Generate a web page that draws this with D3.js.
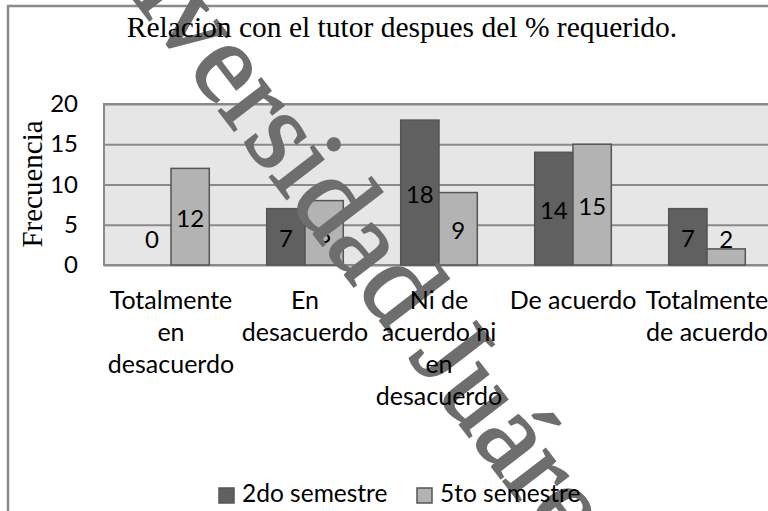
<!DOCTYPE html>
<html>
<head>
<meta charset="utf-8">
<script src="https://cdn.jsdelivr.net/npm/d3@7"></script>
<style>
  body { margin: 0; background: #fff; }
  svg { display: block; }
</style>
</head>
<body>
<svg id="chart"></svg>
<script>
const categories = ["Totalmente en desacuerdo", "En desacuerdo", "Ni de acuerdo ni en desacuerdo", "De acuerdo", "Totalmente de acuerdo"];
// how the category labels wrap under the axis
const categoryLines = [
    ["Totalmente", "en", "desacuerdo"],
    ["En", "desacuerdo"],
    ["Ni de", "acuerdo ni", "en", "desacuerdo"],
    ["De acuerdo"],
    ["Totalmente", "de acuerdo"]
];
const seriesNames = ["2do semestre", "5to semestre"];
const segundoSemestre = [0, 7, 18, 14, 7];
const quintoSemestre = [12, 8, 9, 15, 2];
const yTicks = [0, 5, 10, 15, 20];
const title = "Relacion con el tutor despues del % requerido.";
const yTitle = "Frecuencia";
const watermark = "Universidad Juárez";

const W = 768, H = 511;
const plot = { left: 104, right: 774, top: 104, bottom: 265 };
const colors = ["#606060", "#b3b3b3"];
const sans = "Lato, 'Open Sans', sans-serif";
const serif = "'Liberation Serif', 'Times New Roman', serif";

const svg = d3.select("#chart").attr("width", W).attr("height", H);

// outer chart frame (only left and top edges fall inside the picture)
svg.append("rect")
    .attr("x", 8).attr("y", 6)
    .attr("width", 900).attr("height", 700)
    .attr("fill", "#fff")
    .attr("stroke", "#8a8a8a")
    .attr("stroke-width", 2.5);

const data = categories.map((c, i) => ({
    cat: c,
    values: [segundoSemestre[i], quintoSemestre[i]]
}));

//scales
const x0 = d3.scaleBand()
    .domain(categories)
    .range([plot.left, plot.right])
    .paddingInner(1.5 / 3.5)
    .paddingOuter(0.75 / 3.5);

const x1 = d3.scaleBand()
    .domain(seriesNames)
    .range([0, x0.bandwidth()]);

const y = d3.scaleLinear()
    .domain([0, 20])
    .range([plot.bottom, plot.top]);

// plot background
svg.append("rect")
    .attr("x", plot.left).attr("y", plot.top)
    .attr("width", plot.right - plot.left)
    .attr("height", plot.bottom - plot.top)
    .attr("fill", "#e6e6e6")
    .attr("stroke", "#8a8a8a")
    .attr("stroke-width", 2);

// gridlines + tick labels
const yAxis = svg.append("g")
    .attr("transform", `translate(${plot.left},0)`)
    .call(d3.axisLeft(y).tickValues(yTicks).tickSize(0).tickPadding(26));
yAxis.select(".domain").remove();
yAxis.selectAll(".tick line").clone()
    .attr("x2", plot.right - plot.left)
    .attr("stroke", "#8a8a8a")
    .attr("stroke-width", 2);
yAxis.selectAll("text")
    .attr("font-family", sans)
    .attr("font-size", 24)
    .attr("fill", "#000");

// bars
const groups = svg.append("g")
    .selectAll("g")
    .data(data)
    .join("g")
    .attr("transform", d => `translate(${x0(d.cat)},0)`);

groups.selectAll("rect")
    .data(d => d.values.map((v, i) => ({ key: seriesNames[i], v, i })))
    .join("rect")
    .attr("x", d => x1(d.key))
    .attr("width", x1.bandwidth())
    .attr("y", d => y(d.v))
    .attr("height", d => y(0) - y(d.v))
    .attr("fill", d => colors[d.i])
    .attr("stroke", "#555")
    .attr("stroke-width", 1.5);

// watermark
svg.append("text")
    .attr("transform", "translate(45,-116) rotate(52.5)")
    .attr("font-family", serif)
    .attr("font-size", 116)
    .attr("fill", "#6e6e6e")
    .attr("stroke", "#6e6e6e")
    .attr("stroke-width", 2)
    .text(watermark);

// data labels, centred in the bar but kept clear of the axis
groups.selectAll("text")
    .data(d => d.values.map((v, i) => ({ key: seriesNames[i], v })))
    .join("text")
    .attr("x", d => x1(d.key) + x1.bandwidth() / 2)
    .attr("y", d => Math.min((y(d.v) + y(0)) / 2 + 2, y(3.1)))
    .attr("dy", "0.35em")
    .attr("text-anchor", "middle")
    .attr("font-family", sans)
    .attr("font-size", 24)
    .text(d => d.v);

// category labels
svg.append("g")
    .selectAll("text")
    .data(data)
    .join("text")
    .attr("x", d => x0(d.cat) + x0.bandwidth() / 2)
    .attr("y", 309)
    .attr("text-anchor", "middle")
    .attr("font-family", sans)
    .attr("font-size", 25)
    .each(function (d, i) {
        d3.select(this).selectAll("tspan")
            .data(categoryLines[i])
            .join("tspan")
            .attr("x", x0(d.cat) + x0.bandwidth() / 2)
            .attr("dy", (l, j) => j === 0 ? 0 : 32)
            .text(l => l);
    });

// titles
svg.append("text")
    .attr("x", 402).attr("y", 37)
    .attr("text-anchor", "middle")
    .attr("font-family", serif)
    .attr("font-size", 29.5)
    .text(title);

svg.append("text")
    .attr("transform", "translate(42,184) rotate(-90)")
    .attr("text-anchor", "middle")
    .attr("font-family", serif)
    .attr("font-size", 29)
    .text(yTitle);

// legend
const legendX = [219, 417];
const legend = svg.append("g")
    .selectAll("g")
    .data(seriesNames)
    .join("g")
    .attr("transform", (d, i) => `translate(${legendX[i]},488)`);
legend.append("rect")
    .attr("width", 15).attr("height", 15)
    .attr("fill", (d, i) => colors[i])
    .attr("stroke", "#555")
    .attr("stroke-width", 1.5);
legend.append("text")
    .attr("x", 23).attr("y", 14)
    .attr("font-family", sans)
    .attr("font-size", 24.5)
    .text(d => d);
</script>
</body>
</html>
